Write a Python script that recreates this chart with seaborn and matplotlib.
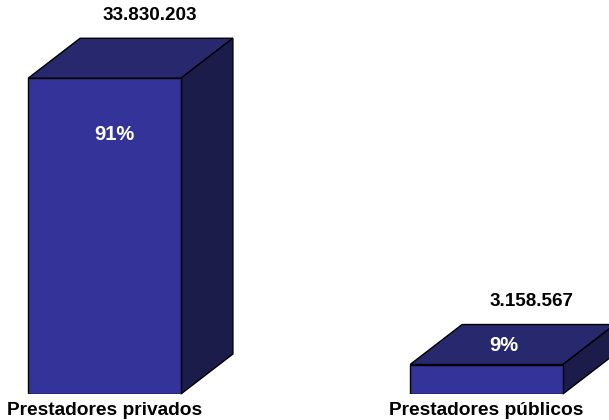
import matplotlib
matplotlib.use("Agg")
import matplotlib.pyplot as plt
import seaborn as sns
import pandas as pd
from matplotlib.patches import Polygon

# Data
categories = ["Prestadores privados", "Prestadores públicos"]
values = [33830203, 3158567]
value_labels = ["33.830.203", "3.158.567"]
share_labels = ["91%", "9%"]

# Styling
FRONT = "#333399"
TOP = "#28286f"
SIDE = "#1c1c4b"
W, H, DPI = 609, 420, 100
PX = 72 / DPI  # points per pixel

sns.set_style("white")
plt.rcParams["font.family"] = ["Liberation Sans", "DejaVu Sans"]

fig = plt.figure(figsize=(W / DPI, H / DPI), dpi=DPI)
ymax = 36_000_000
ax_h_px = 336
ax = fig.add_axes([0, 26 / H, 1, ax_h_px / H])

df = pd.DataFrame({"cat": categories, "val": values})
bar_w = 0.4
sns.barplot(data=df, x="cat", y="val", color=FRONT, saturation=1, width=bar_w,
            edgecolor="black", linewidth=1, ax=ax, zorder=3)

xmin, xmax = -0.2736, 1.3207
ax.set_xlim(xmin, xmax)
ax.set_ylim(0, ymax)

# 3D depth expressed in data units
ddx = 52 / W * (xmax - xmin)
ddy = 40 / ax_h_px * ymax

for i, v in enumerate(values):
    x0, x1 = i - bar_w / 2, i + bar_w / 2
    top = Polygon([(x0, v), (x1, v), (x1 + ddx, v + ddy), (x0 + ddx, v + ddy)],
                  closed=True, facecolor=TOP, edgecolor="black", linewidth=1,
                  clip_on=False, zorder=2)
    side = Polygon([(x1, 0), (x1 + ddx, ddy), (x1 + ddx, v + ddy), (x1, v)],
                   closed=True, facecolor=SIDE, edgecolor="black", linewidth=1,
                   clip_on=False, zorder=2)
    ax.add_patch(top)
    ax.add_patch(side)

# Value labels above each block
for i, (v, lab) in enumerate(zip(values, value_labels)):
    ax.annotate(lab, xy=(i, v), xytext=(45 * PX, 63 * PX), textcoords="offset points",
                ha="center", va="center", fontsize=13.6, fontweight="bold",
                color="black", annotation_clip=False)

# Share labels on the blocks
share_offsets = [(9.5, -56), (17.5, 19)]
for i, (v, lab) in enumerate(zip(values, share_labels)):
    ox, oy = share_offsets[i]
    ax.annotate(lab, xy=(i, v), xytext=(ox * PX, oy * PX), textcoords="offset points",
                ha="center", va="center", fontsize=14.5, fontweight="bold",
                color="white", zorder=5, annotation_clip=False)

ax.set_xlabel("")
ax.set_ylabel("")
ax.set_yticks([])
ax.tick_params(axis="x", length=0, pad=5.5, colors="black")
for t in ax.get_xticklabels():
    t.set_fontsize(13.8)
    t.set_fontweight("bold")
    t.set_color("black")
for s in ax.spines.values():
    s.set_visible(False)
ax.patch.set_alpha(0)

fig.savefig("out.png", dpi=DPI)
